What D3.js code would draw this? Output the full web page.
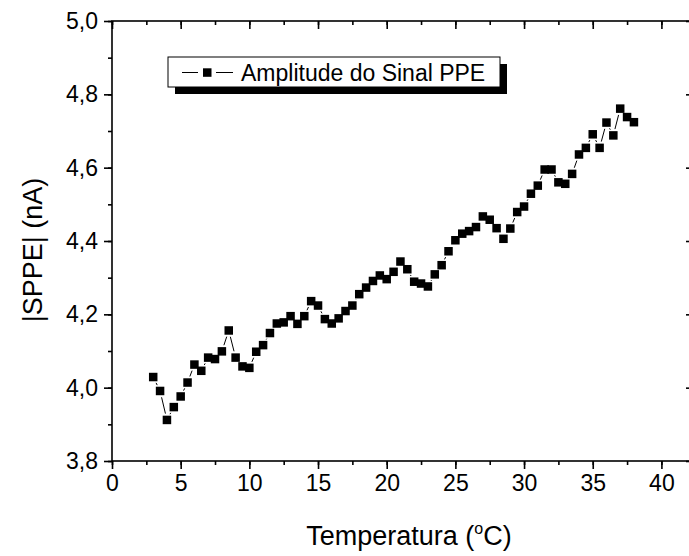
<!DOCTYPE html>
<html>
<head>
<meta charset="utf-8">
<script src="https://cdn.jsdelivr.net/npm/d3@7"></script>
<style>
  body { margin: 0; background: #fff; }
  text { font-family: Arial, "Liberation Sans", sans-serif; fill: #000; }
</style>
</head>
<body>
<div id="chart"></div>
<script>
// temperatures (°C)
const temps = [
  3.0, 3.5, 4.0, 4.5, 5.0, 5.5, 6.0, 6.5, 7.0, 7.5,
  8.0, 8.5, 9.0, 9.5, 10.0, 10.5, 11.0, 11.5, 12.0, 12.5,
  13.0, 13.5, 14.0, 14.5, 15.0, 15.5, 16.0, 16.5, 17.0, 17.5,
  18.0, 18.5, 19.0, 19.5, 20.0, 20.5, 21.0, 21.5, 22.0, 22.5,
  23.0, 23.5, 24.0, 24.5, 25.0, 25.5, 26.0, 26.5, 27.0, 27.5,
  28.0, 28.5, 29.0, 29.5, 30.0, 30.5, 31.0, 31.5, 32.0, 32.5,
  33.0, 33.5, 34.0, 34.5, 35.0, 35.5, 36.0, 36.5, 37.0, 37.5, 38.0
];

// |SPPE| amplitude (nA)
const amplitude = [
  4.029, 3.991, 3.912, 3.947, 3.976, 4.014, 4.063, 4.046, 4.082, 4.078,
  4.099, 4.156, 4.082, 4.058, 4.054, 4.098, 4.116, 4.149, 4.175, 4.178,
  4.195, 4.174, 4.195, 4.236, 4.224, 4.187, 4.175, 4.189, 4.209, 4.224,
  4.255, 4.273, 4.291, 4.306, 4.296, 4.316, 4.344, 4.323, 4.289, 4.284,
  4.276, 4.309, 4.334, 4.372, 4.402, 4.420, 4.427, 4.438, 4.467, 4.458,
  4.435, 4.406, 4.434, 4.479, 4.494, 4.529, 4.551, 4.595, 4.595, 4.560,
  4.556, 4.583, 4.636, 4.654, 4.691, 4.654, 4.723, 4.688, 4.761, 4.738, 4.724
];

const xTicks = [0, 5, 10, 15, 20, 25, 30, 35, 40];
const yTicks = [3.8, 4.0, 4.2, 4.4, 4.6, 4.8, 5.0];
const legendLabel = 'Amplitude do Sinal PPE';

const data = temps.map((t, i) => ({t: t, v: amplitude[i]}));

const W = 689, H = 556;
const margin = {top: 21, right: -4, bottom: 95, left: 112};
const width = W - margin.left - margin.right,
      height = H - margin.top - margin.bottom;

const svg = d3.select('#chart')
    .append('svg')
    .attr('width', W)
    .attr('height', H);

const g = svg.append('g')
    .attr('transform', 'translate(' + margin.left + ',' + margin.top + ')');

const x = d3.scaleLinear().domain([0, 42.3]).range([0, width]);
const y = d3.scaleLinear().domain([3.8, 5.0]).range([height, 0]);

const fmt = d => d3.format('.1f')(d).replace('.', ',');

// minor tick positions
const xMinor = d3.range(0, 42.5, 2.5);
const yMinor = d3.range(38, 51, 1).map(d => d / 10);

// bottom axis
g.append('g')
    .attr('class', 'axis axis-x')
    .attr('transform', 'translate(0,' + height + ')')
    .call(d3.axisBottom(x).tickValues(xMinor).tickSize(4).tickFormat(''));
g.append('g')
    .attr('class', 'axis axis-x')
    .attr('transform', 'translate(0,' + height + ')')
    .call(d3.axisBottom(x).tickValues(xTicks).tickSize(8).tickPadding(6).tickFormat(d3.format('d')));

// top axis (ticks inward)
g.append('g')
    .attr('class', 'axis axis-top')
    .call(d3.axisBottom(x).tickValues(xMinor).tickSize(4).tickFormat(''));
g.append('g')
    .attr('class', 'axis axis-top')
    .call(d3.axisBottom(x).tickValues(xTicks).tickSize(8).tickFormat(''));

// left axis
g.append('g')
    .attr('class', 'axis axis-y')
    .call(d3.axisLeft(y).tickValues(yMinor).tickSize(4).tickFormat(''));
g.append('g')
    .attr('class', 'axis axis-y')
    .call(d3.axisLeft(y).tickValues(yTicks).tickSize(8).tickPadding(6).tickFormat(fmt));

// right axis (ticks inward)
g.append('g')
    .attr('class', 'axis axis-right')
    .attr('transform', 'translate(' + width + ',0)')
    .call(d3.axisLeft(y).tickValues(yTicks).tickSize(-7).tickFormat(''))
    .selectAll('line').attr('x2', -7);

g.selectAll('.axis path').attr('stroke', '#000').attr('stroke-width', 1.6);
g.selectAll('.axis line').attr('stroke', '#000').attr('stroke-width', 1.6);
g.selectAll('.axis text')
    .style('font-size', '23px')
    .style('font-family', 'Arial, "Liberation Sans", sans-serif');
g.selectAll('.axis .domain').attr('d', null);

// frame
g.append('rect')
    .attr('x', 0).attr('y', 0)
    .attr('width', width).attr('height', height)
    .attr('fill', 'none')
    .attr('stroke', '#000')
    .attr('stroke-width', 1.6);

// connecting segments, with small gaps at the symbols (as Origin draws them)
const gap = 6.5;
const segs = d3.pairs(data).map(([a, b]) => {
    const x1 = x(a.t), y1 = y(a.v), x2 = x(b.t), y2 = y(b.v);
    const len = Math.hypot(x2 - x1, y2 - y1);
    const ux = (x2 - x1) / len, uy = (y2 - y1) / len;
    return {x1: x1 + ux * gap, y1: y1 + uy * gap, x2: x2 - ux * gap, y2: y2 - uy * gap, len: len};
}).filter(s => s.len > 2 * gap);

g.selectAll('.seg')
    .data(segs)
    .enter().append('line')
    .attr('class', 'seg')
    .attr('x1', d => d.x1).attr('y1', d => d.y1)
    .attr('x2', d => d.x2).attr('y2', d => d.y2)
    .attr('stroke', '#000')
    .attr('stroke-width', 1);

const ms = 8.5;
g.selectAll('.pt')
    .data(data)
    .enter().append('rect')
    .attr('class', 'pt')
    .attr('x', d => x(d.t) - ms / 2)
    .attr('y', d => y(d.v) - ms / 2)
    .attr('width', ms)
    .attr('height', ms)
    .attr('fill', '#000');

// legend with shadow
const lg = svg.append('g').attr('transform', 'translate(168,57)');
lg.append('rect')
    .attr('x', 7).attr('y', 7)
    .attr('width', 332).attr('height', 30)
    .attr('fill', '#000');
lg.append('rect')
    .attr('x', 0).attr('y', 0)
    .attr('width', 332).attr('height', 30)
    .attr('fill', '#fff')
    .attr('stroke', '#000')
    .attr('stroke-width', 1);
lg.append('line')
    .attr('x1', 14).attr('x2', 30).attr('y1', 15.5).attr('y2', 15.5)
    .attr('stroke', '#000').attr('stroke-width', 1);
lg.append('line')
    .attr('x1', 48).attr('x2', 65).attr('y1', 15.5).attr('y2', 15.5)
    .attr('stroke', '#000').attr('stroke-width', 1);
lg.append('rect')
    .attr('x', 35).attr('y', 11.3)
    .attr('width', ms).attr('height', ms)
    .attr('fill', '#000');
lg.append('text')
    .attr('x', 73).attr('y', 24)
    .style('font-size', '23px')
    .text(legendLabel);

// axis titles
const xt = svg.append('text')
    .attr('x', 409).attr('y', 545)
    .attr('text-anchor', 'middle')
    .style('font-size', '27px');
xt.append('tspan').text('Temperatura (');
xt.append('tspan').attr('dy', -11).style('font-size', '16px').text('o');
xt.append('tspan').attr('dy', 11).text('C)');

svg.append('text')
    .attr('transform', 'translate(42,250) rotate(-90)')
    .attr('text-anchor', 'middle')
    .style('font-size', '27px')
    .text('|SPPE| (nA)');
</script>
</body>
</html>
